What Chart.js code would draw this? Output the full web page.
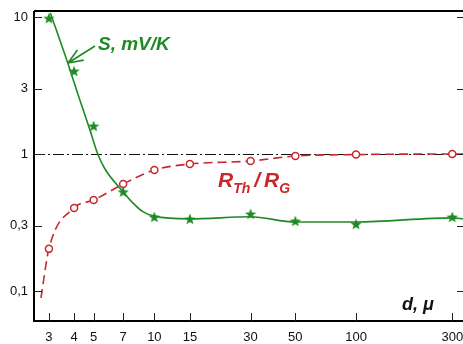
<!DOCTYPE html>
<html>
<head>
<meta charset="utf-8">
<script src="https://cdn.jsdelivr.net/npm/chart.js@4.4.0/dist/chart.umd.min.js"></script>
<style>
  html, body { margin: 0; padding: 0; background: #fff; overflow: hidden; }
  #chart { display: block; }
</style>
</head>
<body>
<!-- a bit wider than the window so the right frame edge falls just off-screen, as in the original -->
<canvas id="chart" width="471" height="344"></canvas>
<script>
// Measured points (d in microns)
const dValues = [3, 4, 5, 7, 10, 15, 30, 50, 100, 300];
const sValues = [9.8, 4.03, 1.6, 0.53, 0.347, 0.336, 0.365, 0.324, 0.308, 0.347];
const rValues = [0.203, 0.404, 0.461, 0.604, 0.764, 0.845, 0.889, 0.967, 0.99, 1.0];

// Fitted curves
const sCurveX = [3.05, 3.72, 4.27, 4.79, 5.24, 5.68, 7, 7.82, 8.76, 10, 15, 30, 50, 100, 300, 343];
const sCurveY = [10.7, 4.61, 2.48, 1.5, 1.0, 0.78, 0.53, 0.44, 0.38, 0.352, 0.336, 0.348, 0.319, 0.319, 0.342, 0.336];
const rCurveX = [2.74, 3, 4, 5, 7, 10, 15, 30, 50, 100, 300, 343];
const rCurveY = [0.089, 0.203, 0.404, 0.461, 0.604, 0.764, 0.845, 0.889, 0.967, 0.99, 1.0, 1.0];

// Axis ticks
const xTicks = [3, 4, 5, 7, 10, 15, 30, 50, 100, 300];
const yTicks = [0.1, 0.3, 1, 3, 10];
const yTickLabels = ['0,1', '0,3', '1', '3', '10'];

const GREEN = '#1f8a24';
const RED = '#c8282c';

function pts(xs, ys) {
  return xs.map((x, i) => ({ x: x, y: ys[i] }));
}

// Filled five-point star for the S markers
function makeStar(size, color) {
  const c = document.createElement('canvas');
  c.width = size; c.height = size;
  const g = c.getContext('2d');
  g.fillStyle = color;
  g.beginPath();
  for (let i = 0; i < 10; i++) {
    const r = i % 2 ? size * 0.21 : size / 2;
    const a = -Math.PI / 2 + i * Math.PI / 5;
    g.lineTo(size / 2 + r * Math.cos(a), size / 2 + 0.5 + r * Math.sin(a));
  }
  g.closePath();
  g.fill();
  return c;
}

// Frame, ticks, reference line and labels
const decorPlugin = {
  id: 'decor',
  beforeDatasetsDraw(chart) {
    const { ctx, chartArea: a, scales } = chart;
    const y1 = scales.y.getPixelForValue(1);
    ctx.save();
    ctx.strokeStyle = '#111';
    ctx.lineWidth = 1;
    ctx.setLineDash([11, 3, 2, 3]);
    ctx.beginPath();
    ctx.moveTo(a.left, Math.round(y1) + 0.5);
    ctx.lineTo(a.right, Math.round(y1) + 0.5);
    ctx.stroke();
    ctx.restore();
  },
  afterDraw(chart) {
    const { ctx, chartArea: a, scales } = chart;
    ctx.save();
    ctx.strokeStyle = '#000';
    ctx.lineWidth = 2;
    ctx.beginPath();
    ctx.moveTo(a.left, a.top);
    ctx.lineTo(a.right + 2, a.top);
    ctx.moveTo(a.left, a.top);
    ctx.lineTo(a.left, a.bottom);
    ctx.lineTo(a.right + 2, a.bottom);
    ctx.stroke();

    ctx.lineWidth = 1;
    ctx.strokeStyle = '#222';
    ctx.beginPath();
    xTicks.forEach(v => {
      const x = Math.round(scales.x.getPixelForValue(v)) + 0.5;
      ctx.moveTo(x, a.bottom);
      ctx.lineTo(x, a.bottom - 8);
    });
    yTicks.forEach(v => {
      const y = Math.round(scales.y.getPixelForValue(v)) + 0.5;
      ctx.moveTo(a.left, y);
      ctx.lineTo(a.left + 8, y);
      ctx.moveTo(a.right, y);
      ctx.lineTo(a.right - 7, y);
    });
    ctx.stroke();

    // S, mV/K label with arrow
    ctx.fillStyle = GREEN;
    ctx.strokeStyle = GREEN;
    ctx.font = 'italic bold 19px "Liberation Sans", Arial, sans-serif';
    ctx.textBaseline = 'alphabetic';
    ctx.fillText('S, mV/K', 98, 50);
    const tipX = 68, tipY = 63, fromX = 95, fromY = 46;
    const ang = Math.atan2(tipY - fromY, tipX - fromX);
    ctx.lineWidth = 1.6;
    ctx.beginPath();
    ctx.moveTo(fromX, fromY);
    ctx.lineTo(tipX, tipY);
    [-0.38, 0.38].forEach(d => {
      ctx.moveTo(tipX, tipY);
      ctx.lineTo(tipX - 16 * Math.cos(ang + d), tipY - 16 * Math.sin(ang + d));
    });
    ctx.stroke();

    // R_Th / R_G label
    ctx.fillStyle = RED;
    const big = 'italic bold 21px "Liberation Sans", Arial, sans-serif';
    const small = 'italic bold 14px "Liberation Sans", Arial, sans-serif';
    let x = 218;
    const base = 187;
    ctx.font = big; ctx.fillText('R', x, base); x += ctx.measureText('R').width;
    ctx.font = small; ctx.fillText('Th', x, base + 6); x += ctx.measureText('Th').width + 4;
    ctx.font = big; ctx.fillText('/', x, base); x += ctx.measureText('/').width + 4;
    ctx.fillText('R', x, base); x += ctx.measureText('R').width;
    ctx.font = small; ctx.fillText('G', x, base + 6);

    // axis title
    ctx.fillStyle = '#111';
    ctx.font = 'italic bold 18px "Liberation Sans", Arial, sans-serif';
    ctx.fillText('d, \u03bc', 402, 310);
    ctx.restore();
  }
};

const tickFont = { family: '"Liberation Sans", Arial, sans-serif', size: 13 };

new Chart(document.getElementById('chart'), {
  type: 'line',
  data: {
    datasets: [
      {
        label: 'S points',
        data: pts(dValues, sValues),
        showLine: false,
        pointStyle: makeStar(12, GREEN),
        pointRadius: 6,
        order: 0
      },
      {
        label: 'R points',
        data: pts(dValues, rValues),
        showLine: false,
        pointStyle: 'circle',
        pointRadius: 3.5,
        pointBackgroundColor: '#fff',
        pointBorderColor: RED,
        pointBorderWidth: 1.5,
        order: 1
      },
      {
        label: 'S curve',
        data: pts(sCurveX, sCurveY),
        borderColor: GREEN,
        borderWidth: 1.6,
        pointRadius: 0,
        cubicInterpolationMode: 'monotone',
        order: 2
      },
      {
        label: 'R curve',
        data: pts(rCurveX, rCurveY),
        borderColor: RED,
        borderWidth: 1.6,
        borderDash: [9, 5],
        pointRadius: 0,
        cubicInterpolationMode: 'monotone',
        order: 3
      }
    ]
  },
  options: {
    responsive: false,
    animation: false,
    devicePixelRatio: 1,
    layout: { padding: { top: 11, right: 0, left: 0, bottom: 0 } },
    plugins: { legend: { display: false }, tooltip: { enabled: false } },
    scales: {
      x: {
        type: 'logarithmic',
        bounds: 'data',
        min: 2.53,
        max: 343,
        afterBuildTicks: s => { s.ticks = xTicks.map(v => ({ value: v })); },
        afterFit: s => { s.height = 23; s.paddingLeft = 0; s.paddingRight = 0; },
        ticks: {
          autoSkip: false,
          maxRotation: 0,
          padding: 9,
          color: '#111',
          font: tickFont,
          callback: v => String(v)
        },
        grid: { display: false, drawTicks: false },
        border: { display: false }
      },
      y: {
        type: 'logarithmic',
        bounds: 'data',
        min: 0.0604,
        max: 11.06,
        afterBuildTicks: s => { s.ticks = yTicks.map(v => ({ value: v })); },
        afterFit: s => { s.width = 34; s.paddingTop = 0; s.paddingBottom = 0; },
        ticks: {
          autoSkip: false,
          padding: 6,
          color: '#111',
          font: tickFont,
          callback: v => yTickLabels[yTicks.indexOf(v)]
        },
        grid: { display: false, drawTicks: false },
        border: { display: false }
      }
    }
  },
  plugins: [decorPlugin]
});
</script>
</body>
</html>
